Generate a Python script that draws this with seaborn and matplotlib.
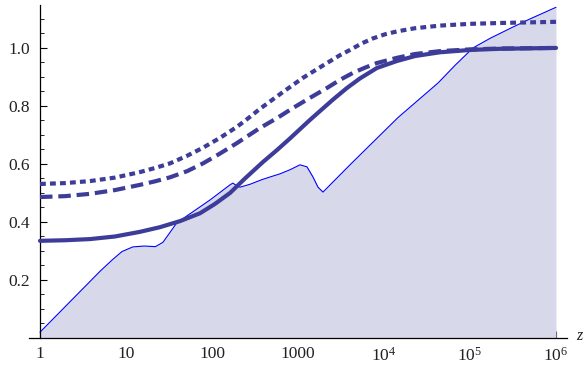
import numpy as np
import pandas as pd
import matplotlib
matplotlib.use("Agg")
import matplotlib.pyplot as plt
import seaborn as sns
from matplotlib.ticker import FixedLocator, NullFormatter, FixedFormatter

# ---- data ----
solid_x = [1, 1.953, 3.815, 7.45, 14.55, 24.8, 42.5, 72.5, 108, 162, 242, 392, 570, 807,
           1379, 2553, 3714, 5260, 8290, 14170, 22940, 44790, 100000, 223300, 1e6]
solid_y = [0.335, 0.337, 0.341, 0.350, 0.366, 0.382, 0.403, 0.430, 0.462, 0.500, 0.550, 0.607,
           0.648, 0.688, 0.752, 0.822, 0.862, 0.895, 0.931, 0.955, 0.972, 0.985, 0.993, 0.997, 1.0]

dashed_x = [1, 1.953, 3.815, 7.45, 14.55, 21.7, 32.5, 51.2, 78.6, 124, 195, 361, 570, 875,
            1379, 2174, 3078, 4360, 6013, 8290, 14170, 22940, 44790, 100000, 223300, 1e6]
dashed_y = [0.486, 0.489, 0.497, 0.510, 0.528, 0.540, 0.554, 0.575, 0.602, 0.636, 0.672, 0.724,
            0.758, 0.793, 0.828, 0.862, 0.890, 0.914, 0.932, 0.948, 0.966, 0.979, 0.989, 0.995,
            0.998, 1.0]

dotted_x = [1, 1.953, 3.815, 7.45, 14.55, 21.7, 32.5, 51.2, 78.6, 124, 195, 262, 361, 669,
            1143, 2174, 3078, 4025, 5548, 7450, 10270, 14170, 22940, 44790, 100000, 223300, 1e6]
dotted_y = [0.531, 0.534, 0.541, 0.553, 0.572, 0.586, 0.602, 0.628, 0.656, 0.690, 0.728, 0.757,
            0.790, 0.848, 0.897, 0.948, 0.975, 0.993, 1.016, 1.033, 1.047, 1.057, 1.068, 1.077,
            1.083, 1.086, 1.09]

fill_x = [1, 4.99, 6.9, 8.98, 12, 16.2, 22, 26.9, 39, 72.5, 95, 162, 175, 195, 212, 277, 381,
          472, 618, 807, 1055, 1273, 1494, 1709, 1953, 4025, 5260, 14550, 42460, 67000, 108400,
          171000, 316000, 498900, 1e6]
fill_y = [0.02, 0.23, 0.269, 0.298, 0.314, 0.317, 0.315, 0.33, 0.397, 0.452, 0.476, 0.528, 0.534,
          0.524, 0.52, 0.53, 0.546, 0.555, 0.566, 0.58, 0.597, 0.59, 0.555, 0.52, 0.503, 0.597,
          0.631, 0.76, 0.879, 0.94, 1.0, 1.033, 1.072, 1.10, 1.14]

x_ticks = [1, 10, 100, 1000, 1e4, 1e5, 1e6]
x_tick_labels = ["1", "10", "100", "1000", r"$10^4$", r"$10^5$", r"$10^6$"]
y_ticks = [0.2, 0.4, 0.6, 0.8, 1.0]
y_tick_labels = ["0.2", "0.4", "0.6", "0.8", "1.0"]
x_axis_label = "z"

# ---- styling ----
sns.set_style("ticks")
plt.rcParams["font.family"] = ["Liberation Serif", "DejaVu Serif"]
plt.rcParams["mathtext.fontset"] = "custom"
plt.rcParams["mathtext.rm"] = "Liberation Serif"
plt.rcParams["mathtext.it"] = "Liberation Serif:italic"

line_col = (0.24, 0.24, 0.6)
fill_col = (0.24 * 0.2 + 0.8, 0.24 * 0.2 + 0.8, 0.6 * 0.2 + 0.8)

W, H = 585, 367
fig = plt.figure(figsize=(W / 100, H / 100), dpi=100)
left_px, right_px, bottom_px, top_px = 29, 567, 338, 5
ax = fig.add_axes([left_px / W, (H - bottom_px) / H, (right_px - left_px) / W, (bottom_px - top_px) / H])

ax.set_xscale("log")
ax.set_xlim(10 ** (-11 / 86), 10 ** ((567 - 40) / 86))
ax.set_ylim(0, 1.148)

df_fill = pd.DataFrame({"x": fill_x, "y": fill_y})
ax.fill_between(df_fill["x"], 0, df_fill["y"], color=fill_col, linewidth=0, zorder=1)
sns.lineplot(data=df_fill, x="x", y="y", ax=ax, color="#0000FF", linewidth=0.8,
             sort=False, estimator=None, zorder=2)

df_s = pd.DataFrame({"x": solid_x, "y": solid_y})
df_d = pd.DataFrame({"x": dashed_x, "y": dashed_y})
df_o = pd.DataFrame({"x": dotted_x, "y": dotted_y})
lw = 3.0
sns.lineplot(data=df_s, x="x", y="y", ax=ax, color=line_col, linewidth=lw, sort=False,
             estimator=None, zorder=3)
sns.lineplot(data=df_d, x="x", y="y", ax=ax, color=line_col, linewidth=lw, sort=False,
             estimator=None, zorder=3)
sns.lineplot(data=df_o, x="x", y="y", ax=ax, color=line_col, linewidth=lw, sort=False,
             estimator=None, zorder=3)
lines = ax.get_lines()
for ln in lines[-3:]:
    ln.set_solid_joinstyle("round")
lines[-2].set_dashes([3.0, 1.4])
lines[-2].set_dash_capstyle("butt")
lines[-1].set_dashes([1.4, 1.0])
lines[-1].set_dash_capstyle("butt")

ax.set_xlabel("")
ax.set_ylabel("")

# axes like Mathematica
for s in ["top", "right"]:
    ax.spines[s].set_visible(False)
ax.spines["left"].set_position(("data", 1))
ax.spines["bottom"].set_position(("data", 0))
for s in ["left", "bottom"]:
    ax.spines[s].set_linewidth(0.9)
    ax.spines[s].set_color("black")

minor_x = [m * 10 ** e for e in range(0, 6) for m in range(2, 10)]
ax.xaxis.set_major_locator(FixedLocator(x_ticks))
ax.xaxis.set_major_formatter(FixedFormatter(x_tick_labels))
ax.xaxis.set_minor_locator(FixedLocator(minor_x))
ax.xaxis.set_minor_formatter(NullFormatter())
ax.yaxis.set_major_locator(FixedLocator(y_ticks))
ax.yaxis.set_major_formatter(FixedFormatter(y_tick_labels))
ax.yaxis.set_minor_locator(FixedLocator(np.arange(0.05, 1.15, 0.05)))

ax.tick_params(axis="both", which="both", bottom=True, left=True, top=False, right=False)
ax.tick_params(axis="both", which="major", direction="in", length=5, width=0.8,
               labelsize=12.5, color="black", labelcolor="#222222")
ax.tick_params(axis="both", which="minor", direction="in", length=3, width=0.6, color="black")
ax.tick_params(axis="x", which="major", pad=6)
ax.tick_params(axis="y", which="major", pad=7)

fig.text(576 / W, (H - 336) / H, x_axis_label, fontstyle="italic", fontsize=11.5,
         ha="left", va="center", color="#222222")

fig.savefig("out.png", dpi=100)
